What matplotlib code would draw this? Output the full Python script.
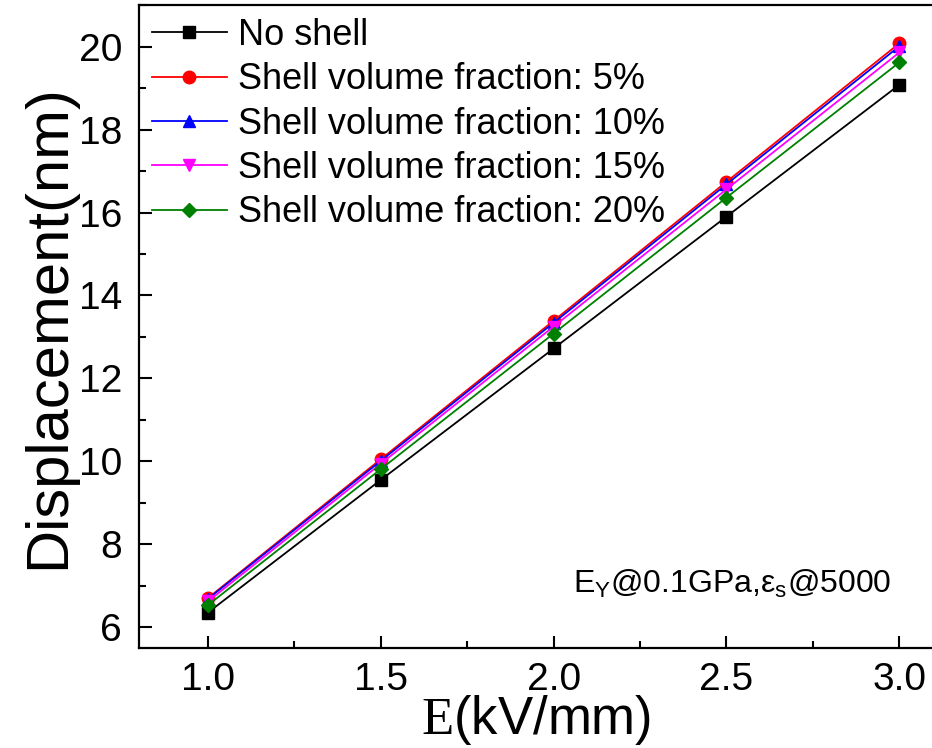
import matplotlib
matplotlib.use("Agg")
import matplotlib.pyplot as plt
from matplotlib.ticker import MultipleLocator

plt.rcParams["font.family"] = ["Liberation Sans", "DejaVu Sans"]
plt.rcParams["mathtext.fontset"] = "custom"
plt.rcParams["mathtext.rm"] = "Liberation Serif"
plt.rcParams["mathtext.sf"] = "Liberation Sans"

field = [1.0, 1.5, 2.0, 2.5, 3.0]
no_shell = [6.35, 9.55, 12.72, 15.90, 19.08]
shell_5 = [6.70, 10.05, 13.39, 16.74, 20.08]
shell_10 = [6.68, 10.01, 13.34, 16.68, 20.01]
shell_15 = [6.62, 9.94, 13.25, 16.56, 19.86]
shell_20 = [6.53, 9.81, 13.08, 16.36, 19.62]

series = [
    (no_shell, "No shell", "black", "s"),
    (shell_5, "Shell volume fraction: 5%", "red", "o"),
    (shell_10, "Shell volume fraction: 10%", "blue", "^"),
    (shell_15, "Shell volume fraction: 15%", "magenta", "v"),
    (shell_20, "Shell volume fraction: 20%", "green", "D"),
]

fig = plt.figure(figsize=(9.32, 7.48), dpi=100)
ax = fig.add_axes([0.149, 0.134, 0.853, 0.859])

for vals, lab, col, mk in series:
    ms = 7.5 if mk == "D" else 9
    ax.plot(field, vals, color=col, marker=mk, markersize=ms, linewidth=1.3,
            label=lab)

ax.set_xlim(0.8, 3.1)
ax.set_ylim(5.5, 21.0)
ax.xaxis.set_major_locator(MultipleLocator(0.5))
ax.xaxis.set_minor_locator(MultipleLocator(0.25))
ax.yaxis.set_major_locator(MultipleLocator(2))
ax.yaxis.set_minor_locator(MultipleLocator(1))
ax.tick_params(which="both", direction="in", labelsize=28, width=1.5,
               top=False, right=False)
ax.tick_params(which="major", length=9)
ax.tick_params(axis="x", which="major", pad=10)
ax.tick_params(axis="y", which="major", pad=12)
ax.tick_params(which="minor", length=5)
ax.xaxis.set_major_formatter(matplotlib.ticker.FormatStrFormatter("%.1f"))
for sp in ax.spines.values():
    sp.set_linewidth(1.6)

ax.set_xlabel(r"$\mathrm{E}$(kV/mm)", fontsize=38, labelpad=-3)
ax.set_ylabel("Displacement(nm)", fontsize=43, labelpad=2)

ax.text(0.947, 0.1, r"E$_\mathsf{Y}$@0.1GPa,ε$_\mathsf{s}$@5000",
        transform=ax.transAxes, fontsize=23, ha="right", va="center")

ax.legend(loc="upper left", frameon=False, fontsize=26, numpoints=1,
          handlelength=2.1, handletextpad=0.3, labelspacing=0.26,
          borderaxespad=0.15, borderpad=0.2)

fig.savefig("out.png", dpi=100)
